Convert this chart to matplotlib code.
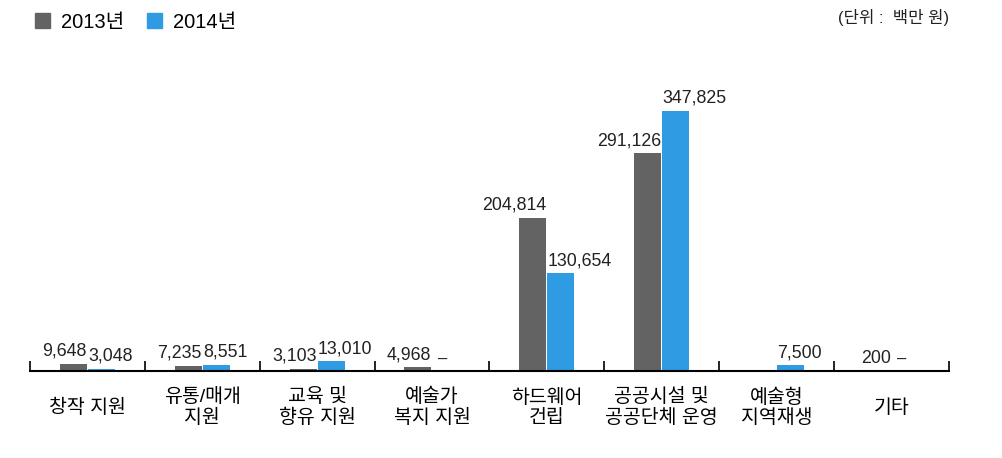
import numpy as np
import matplotlib
matplotlib.use('Agg')
import matplotlib.pyplot as plt
from matplotlib.patches import Patch

plt.rcParams['font.family'] = ['Liberation Sans', 'Noto Sans CJK KR']

# 데이터
categories = ['창작 지원', '유통/매개\n지원', '교육 및\n향유 지원', '예술가\n복지 지원',
              '하드웨어\n건립', '공공시설 및\n공공단체 운영', '예술형\n지역재생', '기타']
vals_2013 = [9648, 7235, 3103, 4968, 204814, 291126, None, 200]
vals_2014 = [3048, 8551, 13010, None, 130654, 347825, 7500, None]
series_names = ['2013년', '2014년']
colors = ['#636363', '#2f9be3']

fig = plt.figure(figsize=(10.02, 4.58), dpi=100)
ax = fig.add_axes([0.0299, 0.19, 0.917, 0.653])

x = np.arange(len(categories))
w = 0.235
offs = [-0.122, 0.122]

# 2013년 라벨은 막대 오른쪽 끝에 맞추고, 2014년 라벨은 왼쪽 끝에 맞춤
for vals, off, c, ha in zip([vals_2013, vals_2014], offs, colors, ['right', 'left']):
    for xi, v in zip(x, vals):
        if v is None:
            continue
        ax.bar(xi + off, v, width=w, color=c)
        edge = xi + off + (w / 2 if ha == 'right' else -w / 2)
        ax.annotate(f'{v:,}', (edge, v), xytext=(0, 3), textcoords='offset points',
                    ha=ha, va='bottom', fontsize=12.8, color='#222222')

# 값이 없는 경우 '–' 표시 (2013년 값이 있는 항목만)
for xi, v13, v14 in zip(x, vals_2013, vals_2014):
    if v14 is None and v13 is not None:
        ax.annotate('–', (xi + offs[1] - w / 2, 0), xytext=(4, 8.5), textcoords='offset points',
                    ha='left', va='center', fontsize=12, color='#222222')

ax.set_xlim(-0.5, len(categories) - 0.5)
ax.set_ylim(0, 400000)
for s in ['top', 'left', 'right']:
    ax.spines[s].set_visible(False)
ax.spines['bottom'].set_linewidth(1.5)
ax.set_yticks([])

ax.set_xticks(np.arange(-0.5, len(categories)), minor=True)
ax.tick_params(axis='x', which='minor', direction='in', length=7, width=1.2)
ax.set_xticks(x)
ax.set_xticklabels(categories, fontsize=14, linespacing=1.2)
ax.tick_params(axis='x', which='major', length=0, pad=26.5)
for lab in ax.get_xticklabels():
    lab.set_va('center')

handles = [Patch(color=c) for c in colors]
fig.legend(handles, series_names, loc='upper left', bbox_to_anchor=(0.017, 1.012),
           ncol=2, frameon=False, fontsize=14.5, handlelength=0.75, handleheight=0.75,
           handletextpad=0.55, columnspacing=1.1)

fig.text(0.947, 0.962, '(단위 :  백만 원)', ha='right', va='center', fontsize=12, color='#222222')

fig.savefig('out.png', dpi=100)
